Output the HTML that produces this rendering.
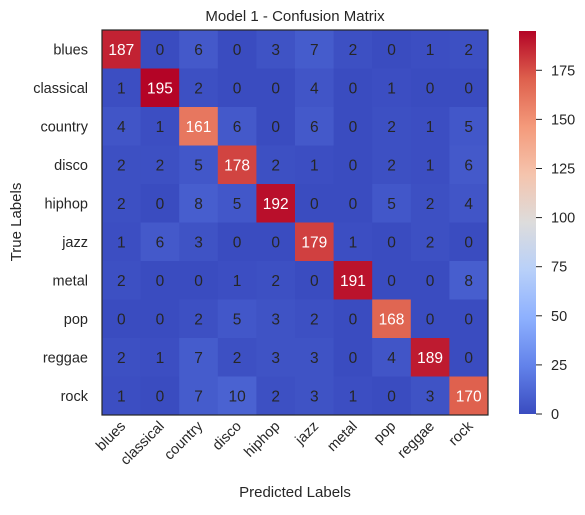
<!DOCTYPE html>
<html><head><meta charset="utf-8"><style>
body{margin:0;background:#fff;font-family:"Liberation Sans",Arial,sans-serif}
svg text{font-family:"Liberation Sans",Arial,sans-serif}
</style></head><body>
<svg id="chart" width="585" height="510" xmlns="http://www.w3.org/2000/svg">
<defs><linearGradient id="cw" x1="0" y1="1" x2="0" y2="0">
<stop offset="0" stop-color="rgb(58,76,192)"/><stop offset="0.125" stop-color="rgb(98,130,234)"/>
<stop offset="0.25" stop-color="rgb(141,176,254)"/><stop offset="0.375" stop-color="rgb(184,208,249)"/>
<stop offset="0.5" stop-color="rgb(221,220,220)"/><stop offset="0.625" stop-color="rgb(245,196,173)"/>
<stop offset="0.75" stop-color="rgb(244,154,123)"/><stop offset="0.875" stop-color="rgb(222,96,77)"/>
<stop offset="1" stop-color="rgb(180,4,38)"/></linearGradient></defs>
<text x="295" y="21" text-anchor="middle" font-size="15" fill="#262626">Model 1 - Confusion Matrix</text>
<g id="cells"></g>
<rect x="102" y="30" width="386" height="385" fill="none" stroke="#262626" stroke-width="1.2"/>
<g id="labels"></g>
<text x="295" y="497" text-anchor="middle" font-size="15" fill="#262626">Predicted Labels</text>
<text transform="translate(21,222) rotate(-90)" text-anchor="middle" font-size="15" fill="#262626">True Labels</text>
<rect x="519" y="31" width="17" height="383" fill="url(#cw)"/>
<g id="cbticks"></g>
</svg>
<script>
const classes=["blues","classical","country","disco","hiphop","jazz","metal","pop","reggae","rock"];
const matrix=[
[187,0,6,0,3,7,2,0,1,2],
[1,195,2,0,0,4,0,1,0,0],
[4,1,161,6,0,6,0,2,1,5],
[2,2,5,178,2,1,0,2,1,6],
[2,0,8,5,192,0,0,5,2,4],
[1,6,3,0,0,179,1,0,2,0],
[2,0,0,1,2,0,191,0,0,8],
[0,0,2,5,3,2,0,168,0,0],
[2,1,7,2,3,3,0,4,189,0],
[1,0,7,10,2,3,1,0,3,170]];
const cbTicks=[0,25,50,75,100,125,150,175];
const NS="http://www.w3.org/2000/svg";
const X0=102,Y0=30,W=386,H=385,n=classes.length,cw=W/n,ch=H/n;
const vmax=Math.max(...matrix.flat());
const stops=[[58,76,192],[98,130,234],[141,176,254],[184,208,249],[221,220,220],[245,196,173],[244,154,123],[222,96,77],[180,4,38]];
function cmap(v){let t=Math.max(0,Math.min(1,v/vmax))*8;let i=Math.min(7,Math.floor(t)),f=t-i;
const a=stops[i],b=stops[i+1];return "rgb("+a.map((c,k)=>Math.round(c+(b[k]-c)*f)).join(",")+")";}
function mk(tag,attrs,parent){const e=document.createElementNS(NS,tag);for(const k in attrs)e.setAttribute(k,attrs[k]);parent.appendChild(e);return e;}
const cells=document.getElementById("cells"),labels=document.getElementById("labels"),cb=document.getElementById("cbticks");
matrix.forEach((row,r)=>row.forEach((v,c)=>{
const x=X0+c*cw,y=Y0+r*ch;
const rc=mk("rect",{x:x,y:y,width:cw+0.5,height:ch+0.5,fill:cmap(v)},cells);


const t=mk("text",{x:x+cw/2,y:y+ch/2+5.5,"text-anchor":"middle","font-size":"15.5",fill:v>vmax/2?"#fff":"#262626"},cells);
t.textContent=v;


}));
classes.forEach((name,i)=>{
const yl=mk("text",{x:88,y:Y0+i*ch+ch/2+5,"text-anchor":"end","font-size":"14.5",fill:"#262626"},labels);
yl.textContent=name;


const cx=X0+i*cw+cw/2+5;
const xl=mk("text",{transform:"translate("+cx+",427) rotate(-45)","text-anchor":"end","font-size":"14.5",fill:"#262626"},labels);
xl.textContent=name;


});
cbTicks.forEach(v=>{
const y=414-v/vmax*383;
const tk=mk("line",{x1:536,x2:542,y1:y,y2:y,stroke:"#262626","stroke-width":"1"},cb);


const tl=mk("text",{x:551,y:y+5,"font-size":"14.5",fill:"#262626"},cb);
tl.textContent=v;


});
</script>
</body></html>
